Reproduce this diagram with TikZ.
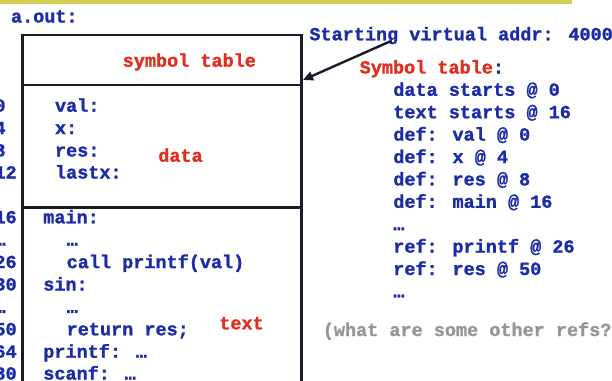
\documentclass[tikz,border=0pt]{standalone}
\usepackage{fontspec}
\setmainfont{Liberation Mono}[BoldFeatures={FakeBold=1.3}]
\usetikzlibrary{arrows.meta}
\definecolor{cblue}{RGB}{28,44,168}
\definecolor{cred}{RGB}{226,44,28}
\definecolor{cgray}{RGB}{150,150,150}
\definecolor{cyel}{RGB}{210,205,80}
\definecolor{cbox}{RGB}{26,26,40}
\tikzset{
  txt/.style={anchor=base west, inner sep=0pt, outer sep=0pt, text=cblue,
    font=\fontsize{18.5}{22.4}\selectfont\bfseries},
  redtxt/.style={txt, text=cred},
  graytxt/.style={txt, text=cgray},
  sect/.style={draw=cbox, line width=2.6pt, rectangle, anchor=north west,
    minimum width=279pt, inner sep=0pt, outer sep=0pt},
  pointer/.style={draw=cbox, line width=2.4pt, -{Triangle[length=10pt,width=9pt]}}
}
\begin{document}
\begin{tikzpicture}[x=1pt,y=-1pt]
\useasboundingbox (0,0) rectangle (612,380);
% top rule
\fill[cyel] (0,0) rectangle (572,3.5);

% a.out box
\node[txt] (aout) at (11,22.5) {a.out:};
\node[sect, minimum height=50pt] (symbox) at (22.7,35) {};
\node[sect, minimum height=122.3pt] (databox) at (22.7,85) {};
\node[sect, minimum height=200pt] (textbox) at (22.7,207.3) {};

\node[redtxt] (symlbl) at (122.7,66.7) {symbol table};
\node[redtxt] (datalbl) at (158.3,161.7) {data};
\node[redtxt] (textlbl) at (219.3,329.3) {text};

% data section
\node[txt] (dval) at (55,111.7) {val:};
\node[txt] (dx) at (55,134.1) {x:};
\node[txt] (dres) at (55,156.5) {res:};
\node[txt] (dlastx) at (55,178.5) {lastx:};

% text section
\node[txt] (tmain) at (43.3,223.3) {main:};
\node[txt] (tdots1) at (66.7,245.7) {…};
\node[txt] (tcall) at (66.7,268.1) {call printf(val)};
\node[txt] (tsin) at (43.3,290.5) {sin:};
\node[txt] (tdots2) at (66.7,312.9) {…};
\node[txt] (tret) at (66.7,335.3) {return res;};
\node[txt] (tprintf) at (43.3,357.7) {printf: …};
\node[txt] (tscanf) at (43.3,379.6) {scanf: …};

% offsets
\node[txt] (o0) at (-5.5,111.7) {0};
\node[txt] (o4) at (-5.5,134.1) {4};
\node[txt] (o8) at (-5.5,156.5) {8};
\node[txt] (o12) at (-5.5,178.5) {12};
\node[txt] (o16) at (-5.5,223.3) {16};
\node[txt] (od1) at (-5.5,245.7) {…};
\node[txt] (o26) at (-5.5,268.1) {26};
\node[txt] (o30) at (-5.5,290.5) {30};
\node[txt] (od2) at (-5.5,312.9) {…};
\node[txt] (o50) at (-5.5,335.3) {50};
\node[txt] (o64) at (-5.5,357.7) {64};
\node[txt] (o80) at (-5.5,379.6) {80};

% right side
\node[txt] (start) at (309.4,40.3) {Starting virtual addr: 4000};
\node[txt] (symtitle) at (359.7,73.5) {\textcolor{cred}{Symbol table}:};
\node[txt] (r1) at (393.3,95.8) {data starts @ 0};
\node[txt] (r2) at (393.3,118.2) {text starts @ 16};
\node[txt] (r3) at (393.3,140.6) {def: val @ 0};
\node[txt] (r4) at (393.3,163.0) {def: x @ 4};
\node[txt] (r5) at (393.3,185.4) {def: res @ 8};
\node[txt] (r6) at (393.3,207.8) {def: main @ 16};
\node[txt] (r7) at (393.3,230.2) {…};
\node[txt] (r8) at (393.3,252.6) {ref: printf @ 26};
\node[txt] (r9) at (393.3,275.0) {ref: res @ 50};
\node[txt] (r10) at (393.3,297.4) {…};
\node[graytxt] (q) at (322.8,336) {(what are some other refs?};

% pointer
\coordinate (arrtail) at (391.7,40.7);
\coordinate (arrhead) at (303,80);
\draw[pointer] (arrtail) -- (arrhead);
\end{tikzpicture}
\end{document}
